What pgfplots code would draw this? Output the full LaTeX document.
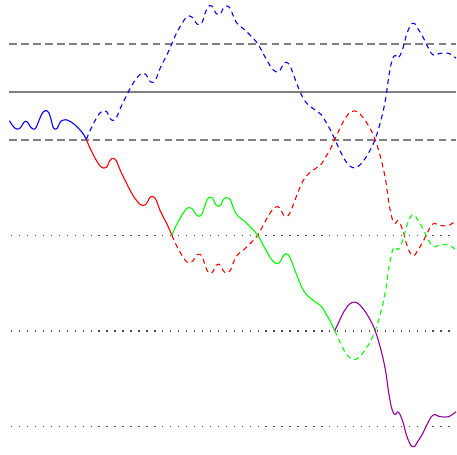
\documentclass[border=0pt]{standalone}
\usepackage{pgfplots}
\pgfplotsset{compat=1.18}

\definecolor{pathpurple}{RGB}{150,0,150}
\definecolor{levelgray}{RGB}{128,128,128}

\begin{document}
\begin{tikzpicture}
\begin{axis}[
  width=457bp, height=455bp, scale only axis,
  hide axis, clip=false,
  xmin=0, xmax=457, ymin=0, ymax=455,
  y dir=reverse,
  every axis plot/.append style={line join=round},
  cdash/.style={line width=1.1pt, dash pattern=on 5pt off 4pt, smooth, tension=0.5},
  csolid/.style={line width=1.1pt, smooth, tension=0.5},
  dots/.style={black!70, line width=1.4pt, dash pattern=on 1.4pt off 6.6pt},
]
\path (rel axis cs:0,0) rectangle (rel axis cs:1,1);

% level lines
\addplot[levelgray, line width=2pt, dash pattern=on 7.5pt off 4.5pt] coordinates {(9.5,44) (457,44)};
\addplot[levelgray, line width=2pt] coordinates {(9.5,92) (457,92)};
\addplot[levelgray, line width=2pt, dash pattern=on 7.5pt off 4.5pt] coordinates {(9.5,140) (457,140)};
\addplot[dots] coordinates {(11,236) (457,236)};
\addplot[dots] coordinates {(11,331.7) (457,331.7)};
\addplot[dots] coordinates {(11,427.5) (457,427.5)};

% reflected paths (dashed)
\addplot[blue, cdash] coordinates {
(86.5,139.7) (90,131.4) (95,121.4) (100,113.4) (104,110.9) (107,111.9) (109.5,117.4)
(112,120.4) (114,120.6) (116.5,118.4) (119,112.4) (122,105.4) (125,99.4) (130,89.4)
(135,80.9) (140,74.9) (143,73.4) (146,74.4) (148.5,78.4) (150.5,81.9) (153,82.7)
(155.5,80.9) (157.5,76.4) (160,69.4) (163.3,62.7) (168,53.4) (172.3,43.7)
(176.5,34) (181.5,25) (186.5,17.5) (190,16) (193,17.5) (195.5,21.5) (198,24.5)
(200.5,24.5) (203,21.5) (205,15) (207.5,8.5) (210,5.7) (212.5,6) (214.5,9.5)
(216.5,13.5) (219,14.8) (221.5,13) (223.5,8.5) (226,6) (228.5,6.3) (231,8.5)
(233,14) (235.5,20) (238.5,24.5) (245,29.7) (251.7,36.3) (258.3,43.7) (265,56)
(271.7,67.5) (275,71) (278.3,72.3) (281,70) (283.5,65) (286,62.5) (289,63.5)
(291.5,68) (294,74.5) (298.3,86) (303.3,97.5) (308.3,104.5) (315,109.7) (321.7,114.7)
(326.7,122.5) (331.5,131) (335.5,139.5)
(340,149.3) (345,159.3) (350,166) (355,168.3) (360,166) (366.7,157.7) (373.3,146)
(378.3,132.7) (383.3,114.3) (386.7,97.7) (389.3,79) (392,64) (394.5,56.5) (396.5,55.5)
(398.3,58.3) (400.7,56) (404,47.7) (407.3,35) (410.7,26.5) (413,23.5) (415.5,23.5)
(418.3,28) (423.3,36) (427.3,44.3) (431.7,52.7) (434,55) (436,55.5) (440,53.7)
(446,53) (450,53.5) (453.3,55.5) (457,58.3)};

\addplot[red, cdash] coordinates {
(172.3,235.7) (176.5,245.4) (181.5,254.4) (186.5,261.9) (190,263.4) (193,261.9)
(195.5,257.9) (198,254.9) (200.5,254.9) (203,257.9) (205,264.4) (207.5,270.9)
(210,273.7) (212.5,273.4) (214.5,269.9) (216.5,265.9) (219,264.6) (221.5,266.4)
(223.5,270.9) (226,273.4) (228.5,273.1) (231,270.9) (233,265.4) (235.5,259.4)
(238.5,254.9) (245,249.7) (251.7,243.1) (258.3,235.7) (265,223.4) (271.7,211.9)
(275,208.4) (278.3,207.1) (281,209.4) (283.5,214.4) (286,216.9) (289,215.9)
(291.5,211.4) (294,204.9) (298.3,193.4) (303.3,181.9) (308.3,174.9) (315,169.7)
(321.7,164.7) (326.7,156.9) (331.5,148.4) (335.5,139.9)
(340,130.1) (345,120.1) (350,113.4) (355,111.1) (360,113.4) (366.7,121.7) (373.3,133.4)
(378.3,146.7) (383.3,165.1) (386.7,181.7) (389.3,200.4) (392,215.4) (394.5,222.9)
(396.5,223.9) (398.3,221.1) (400.7,223.4) (404,231.7) (407.3,244.4) (410.7,252.9)
(413,255.9) (415.5,255.9) (418.3,251.4) (423.3,243.4) (427.3,235.1) (431.7,226.7)
(434,224.4) (436,223.9) (440,225.7) (446,226.4) (450,225.9) (453.3,223.9) (457,221.1)};

\addplot[green, cdash] coordinates {
(335.5,331.5) (340,341.3) (345,351.3) (350,358) (355,360.3) (360,358) (366.7,349.7)
(373.3,338) (378.3,324.7) (383.3,306.3) (386.7,289.7) (389.3,271) (392,256)
(394.5,248.5) (396.5,247.5) (398.3,250.3) (400.7,248) (404,239.7) (407.3,227)
(410.7,218.5) (413,215.5) (415.5,215.5) (418.3,220) (423.3,228) (427.3,236.3)
(431.7,244.7) (434,247) (436,247.5) (440,245.7) (446,245) (450,245.5) (453.3,247.5)
(457,250.3)};

% the path itself (solid)
\addplot[blue, csolid] coordinates {
(9.5,121) (12,125) (15,128.5) (17.5,129.5) (20.5,128) (23,124) (25.5,121.5)
(28,123) (30.5,127) (33.5,129.5) (36,128) (39,121) (42,114) (45,111) (47,111)
(49,113) (51,119) (53,127) (55,129.5) (57,129) (59,125) (61,121.5) (63,120.5)
(66,120) (70,121.5) (75,125) (80,130) (84,135) (86.5,139.7)};

\addplot[red, csolid] coordinates {
(86.5,139.7) (90,148) (95,158) (100,166) (104,168.5) (107,167.5) (109.5,162)
(112,159) (114,158.8) (116.5,161) (119,167) (122,174) (125,180) (130,190)
(135,198.5) (140,204.5) (143,206) (146,205) (148.5,201) (150.5,197.5) (153,196.7)
(155.5,198.5) (157.5,203) (160,210) (163.3,216.7) (168,226) (172.3,235.7)};

\addplot[green, csolid] coordinates {
(172.3,235.7) (176.5,226) (181.5,217) (186.5,209.5) (190,208) (193,209.5)
(195.5,213.5) (198,216.5) (200.5,216.5) (203,213.5) (205,207) (207.5,200.5)
(210,197.7) (212.5,198) (214.5,201.5) (216.5,205.5) (219,206.8) (221.5,205)
(223.5,200.5) (226,198) (228.5,198.3) (231,200.5) (233,206) (235.5,212)
(238.5,216.5) (245,221.7) (251.7,228.3) (258.3,235.7) (265,248) (271.7,259.5)
(275,263) (278.3,264.3) (281,262) (283.5,257) (286,254.5) (289,255.5) (291.5,260)
(294,266.5) (298.3,278) (303.3,289.5) (308.3,296.5) (315,301.7) (321.7,306.7)
(326.7,314.5) (331.5,323) (335.5,331.5)};

\addplot[pathpurple, csolid] coordinates {
(335.5,331.5) (340,321.7) (345,311.7) (350,305) (355,302.7) (360,305) (366.7,313.3)
(373.3,325) (378.3,338.3) (383.3,356.7) (386.7,373.3) (389.3,392) (392,407)
(394.5,414.5) (396.5,415.5) (398.3,412.7) (400.7,415) (404,423.3) (407.3,436)
(410.7,444.5) (413,447.5) (415.5,447.5) (418.3,443) (423.3,435) (427.3,426.7)
(431.7,418.3) (434,416) (436,415.5) (440,417.3) (446,418) (450,417.5) (453.3,415.5)
(457,412.7)};
\end{axis}
\end{tikzpicture}
\end{document}
